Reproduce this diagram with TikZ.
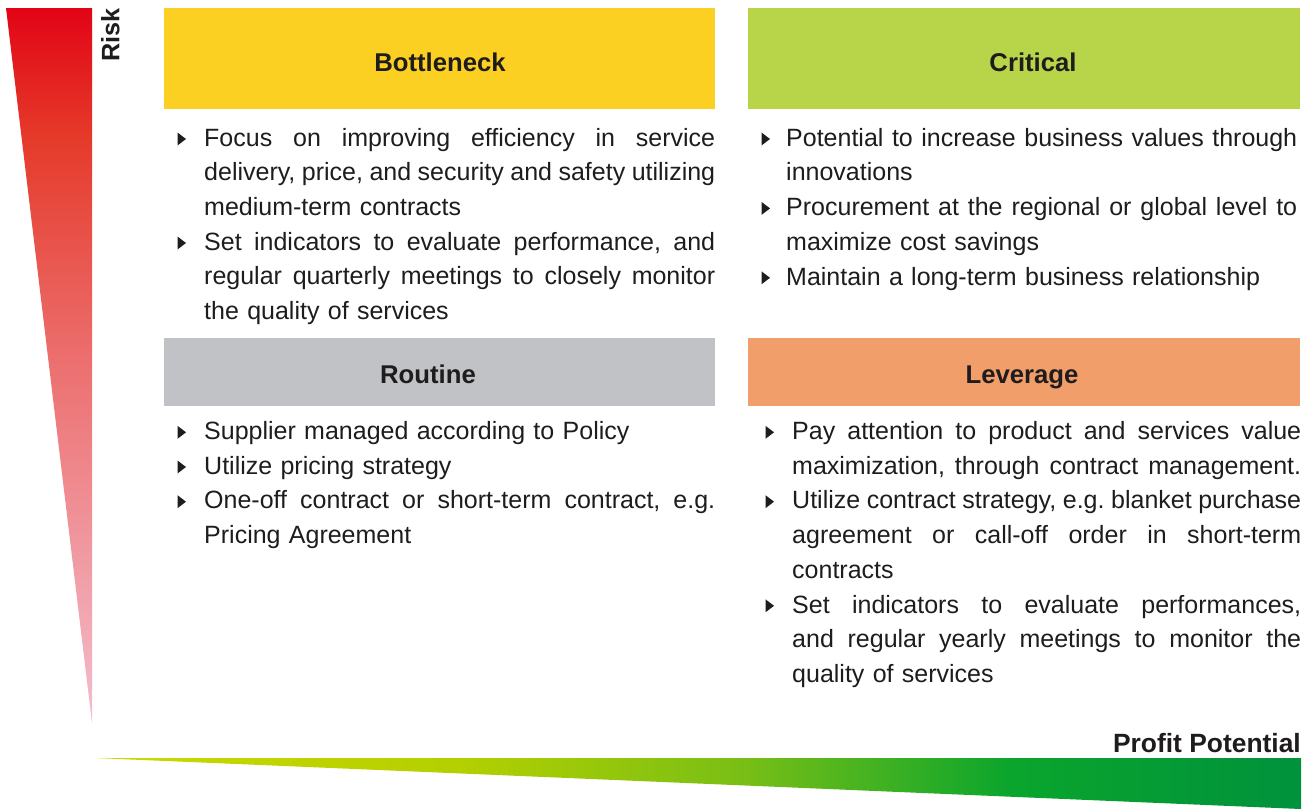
\documentclass[tikz,border=0pt]{standalone}
\usepackage{fontspec}
\setmainfont{Liberation Sans}
\frenchspacing
\definecolor{txt}{RGB}{30,28,29}
\definecolor{bottc}{RGB}{252,208,34}
\definecolor{critc}{RGB}{184,212,72}
\definecolor{routc}{RGB}{193,194,198}
\definecolor{levc}{RGB}{241,158,106}
\definecolor{rk0}{RGB}{244,190,205}
\definecolor{rk1}{RGB}{236,112,112}
\definecolor{rk2}{RGB}{229,58,42}
\definecolor{rk3}{RGB}{226,4,22}
\definecolor{pf0}{RGB}{203,216,0}
\definecolor{pf1}{RGB}{180,208,0}
\definecolor{pf2}{RGB}{120,190,22}
\definecolor{pf3}{RGB}{10,165,45}
\definecolor{pf4}{RGB}{0,146,60}
% TikZ maps the path onto the central 25bp..75bp part of a shading
\pgfdeclareverticalshading{riskshade}{100bp}{color(0bp)=(rk0); color(25bp)=(rk0); color(50bp)=(rk1); color(66bp)=(rk2); color(75bp)=(rk3); color(100bp)=(rk3)}
\pgfdeclarehorizontalshading{profitshade}{100bp}{color(0bp)=(pf0); color(25bp)=(pf0); color(40bp)=(pf1); color(52bp)=(pf2); color(63bp)=(pf3); color(75bp)=(pf4); color(100bp)=(pf4)}
\newlength{\jw}
\setlength{\jw}{511pt}
\newcommand{\jl}[1]{\leavevmode\hbox to \jw{\spaceskip=0.278em plus 1fil minus 0.12em\relax #1}}
\newcommand{\bulat}[2]{\fill[txt] (#1-0.5,#2-13.5) -- (#1+8,#2-7) -- (#1-0.5,#2-0.5) -- cycle;}
\tikzset{
  box/.style={draw=none, inner sep=0pt, anchor=north west},
  title/.style={font=\fontsize{25.7}{30}\selectfont\bfseries, text=txt, anchor=base, inner sep=0pt},
  item/.style={font=\fontsize{25}{34.7}\selectfont, text=txt, anchor=north west, inner sep=0pt, align=left},
}
\begin{document}
\begin{tikzpicture}[x=1pt,y=-1pt]
\useasboundingbox (0,0) rectangle (1313,809);
% axes
\shade[shading=riskshade] (6,8) -- (92,8) -- (92,723) -- cycle;
\shade[shading=profitshade] (95,758) -- (1301,758) -- (1301,809) -- cycle;
\node[title, font=\fontsize{25.2}{30}\selectfont\bfseries, anchor=base west, rotate=90] (risk) at (119.3,61.7) {Risk};
\node[title, font=\fontsize{26.4}{30}\selectfont\bfseries, anchor=base east] (profit) at (1301,752.7) {Profit Potential};
% boxes
\node[box, fill=bottc, minimum width=551, minimum height=101] (bbox) at (164,8) {};
\node[box, fill=critc, minimum width=552, minimum height=101] (cbox) at (748,8) {};
\node[box, fill=routc, minimum width=551, minimum height=68] (rbox) at (164,338) {};
\node[box, fill=levc, minimum width=552, minimum height=68] (lbox) at (748,338) {};
\node[title] (bt) at (440,71) {Bottleneck};
\node[title] (ct) at (1033,71) {Critical};
\node[title] (rt) at (428,383) {Routine};
\node[title] (lt) at (1022,383) {Leverage};
% Bottleneck items
\bulat{178}{146}
\node[item, text width=511] (b1) at (204,146-24.29) {\leavevmode\strut\jl{Focus on improving efficiency in service}\\\jl{delivery, price, and security and safety utilizing}\\medium-term contracts};
\bulat{178}{250}
\node[item, text width=511] (b2) at (204,250-24.29) {\leavevmode\strut\jl{Set indicators to evaluate performance, and}\\\jl{regular quarterly meetings to closely monitor}\\the quality of services};
% Critical items
\bulat{762}{146}
\node[item, text width=511] (c1) at (786,146-24.29) {\leavevmode\strut\jl{Potential to increase business values through}\\innovations};
\bulat{762}{215.4}
\node[item, text width=511] (c2) at (786,215.4-24.29) {\leavevmode\strut\jl{Procurement at the regional or global level to}\\maximize cost savings};
\bulat{762}{284.8}
\node[item, text width=511] (c3) at (786,284.8-24.29) {\leavevmode\strut Maintain a long-term business relationship};
% Routine items
\bulat{178}{439.3}
\node[item, text width=511] (r1) at (204,439.3-24.29) {\leavevmode\strut Supplier managed according to Policy};
\bulat{178}{474}
\node[item, text width=511] (r2) at (204,474-24.29) {\leavevmode\strut Utilize pricing strategy};
\bulat{178}{508.7}
\node[item, text width=511] (r3) at (204,508.7-24.29) {\leavevmode\strut\jl{One-off contract or short-term contract, e.g.}\\Pricing Agreement};
% Leverage items
\setlength{\jw}{509pt}
\bulat{766}{439.3}
\node[item, text width=509] (l1) at (792,439.3-24.29) {\leavevmode\strut\jl{Pay attention to product and services value}\\\jl{maximization, through contract management.}};
\bulat{766}{508.7}
\node[item, text width=509] (l2) at (792,508.7-24.29) {\leavevmode\strut\jl{Utilize contract strategy, e.g. blanket purchase}\\\jl{agreement or call-off order in short-term}\\contracts};
\bulat{766}{612.8}
\node[item, text width=509] (l3) at (792,612.8-24.29) {\leavevmode\strut\jl{Set indicators to evaluate performances,}\\\jl{and regular yearly meetings to monitor the}\\quality of services};
\end{tikzpicture}
\end{document}
